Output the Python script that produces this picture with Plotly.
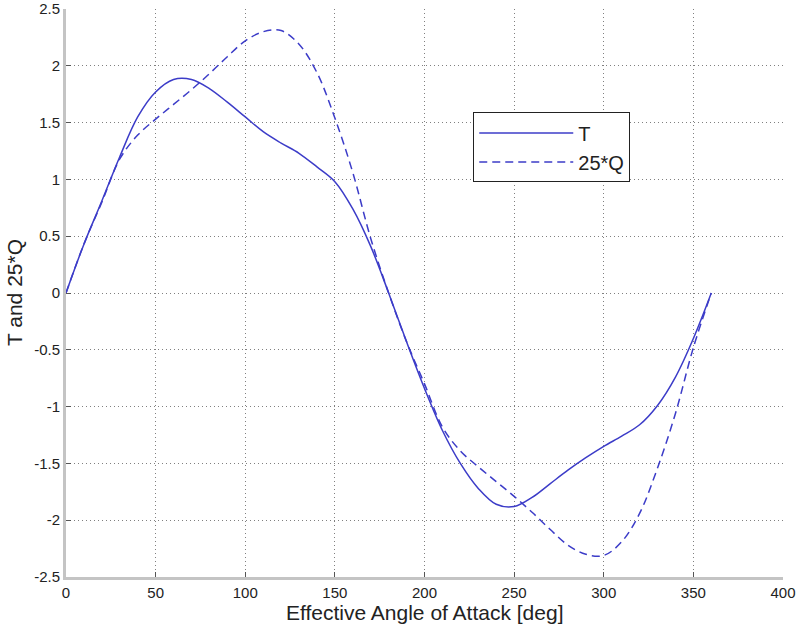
import plotly.graph_objects as go

# Effective angle of attack [deg]
angle = [0, 10, 20, 30, 40, 50, 60, 70, 80, 90, 100, 110, 120, 130, 140, 150, 160, 170, 180,
         190, 200, 210, 220, 230, 240, 250, 260, 270, 280, 290, 300, 310, 320, 330, 340, 350, 360]

T_vals = [0, 0.43, 0.81, 1.20, 1.55, 1.77, 1.88, 1.88, 1.80, 1.68, 1.55, 1.42, 1.32, 1.23, 1.11, 0.98, 0.74, 0.41, 0,
          -0.43, -0.84, -1.21, -1.50, -1.72, -1.86, -1.88, -1.80, -1.68, -1.56, -1.45, -1.35, -1.26, -1.16, -0.99, -0.74, -0.40, 0]

Q25_vals = [0, 0.43, 0.80, 1.18, 1.39, 1.53, 1.66, 1.79, 1.93, 2.08, 2.22, 2.30, 2.31, 2.19, 1.94, 1.54, 1.06, 0.48, 0,
            -0.43, -0.80, -1.18, -1.39, -1.53, -1.66, -1.79, -1.93, -2.08, -2.22, -2.30, -2.31, -2.19, -1.94, -1.54, -1.06, -0.48, 0]

x_ticks = [0, 50, 100, 150, 200, 250, 300, 350, 400]
y_ticks = [2.5, 2, 1.5, 1, 0.5, 0, -0.5, -1, -1.5, -2, -2.5]
y_tick_text = ["2.5", "2", "1.5", "1", "0.5", "0", "-0.5", "-1", "-1.5", "-2", "-2.5"]

LINE = "#3c3cc8"
FONT = "Liberation Sans, Arial, sans-serif"

fig = go.Figure()
fig.add_trace(go.Scatter(x=angle, y=T_vals, mode="lines", name="T",
                         line=dict(color=LINE, width=1.5, shape="spline", smoothing=1.0)))
fig.add_trace(go.Scatter(x=angle, y=Q25_vals, mode="lines", name="25*Q",
                         line=dict(color=LINE, width=1.5, dash="8px,5px", shape="spline", smoothing=1.0)))

common = dict(showgrid=True, gridcolor="#808080", griddash="1px,3px", gridwidth=1,
              zeroline=False, ticks="inside", ticklen=5, tickcolor="#555", automargin=False,
              ticklabeloverflow="allow",
              tickfont=dict(family=FONT, size=15, color="#222"))

fig.update_layout(
    width=796, height=625,
    margin=dict(l=66, r=13, t=9, b=48, autoexpand=False),
    paper_bgcolor="white", plot_bgcolor="white",
    font=dict(family=FONT, color="#222"),
    xaxis=dict(range=[0, 400], tickvals=x_ticks, ticktext=[str(v) for v in x_ticks],
               showline=True, linecolor="#c4c4c4", linewidth=3, **common),
    yaxis=dict(range=[-2.5, 2.5], tickvals=y_ticks, ticktext=y_tick_text,
               showline=True, linecolor="#c4c4c4", linewidth=3, **common),
    xaxis2=dict(range=[0, 400], overlaying="x", side="top", tickvals=x_ticks, showticklabels=False,
                ticks="inside", ticklen=5, tickcolor="#555", showgrid=False, zeroline=False,
                showline=True, linecolor="#9a9a9a", linewidth=1, automargin=False),
    yaxis2=dict(range=[-2.5, 2.5], overlaying="y", side="right", tickvals=y_ticks, showticklabels=False,
                ticks="inside", ticklen=5, tickcolor="#555", showgrid=False, zeroline=False,
                showline=True, linecolor="#9a9a9a", linewidth=1, automargin=False),
    showlegend=True,
    legend=dict(x=0.568, y=0.818, xanchor="left", yanchor="top",
                bgcolor="white", bordercolor="#222", borderwidth=1,
                font=dict(family=FONT, size=20, color="#222"),
                itemwidth=94, tracegroupgap=0),
    annotations=[
        dict(text="Effective Angle of Attack [deg]", xref="paper", yref="paper",
             x=0.5, y=-0.0618, xanchor="center", yanchor="middle", showarrow=False,
             font=dict(family=FONT, size=21, color="#222")),
        dict(text="T and 25*Q", xref="paper", yref="paper",
             x=-0.0725, y=0.5, xanchor="center", yanchor="middle", showarrow=False, textangle=-90,
             font=dict(family=FONT, size=21, color="#222")),
    ],
)

fig.write_html("out.html", config={"displayModeBar": False},
               post_script="document.body.style.margin='0px';")
